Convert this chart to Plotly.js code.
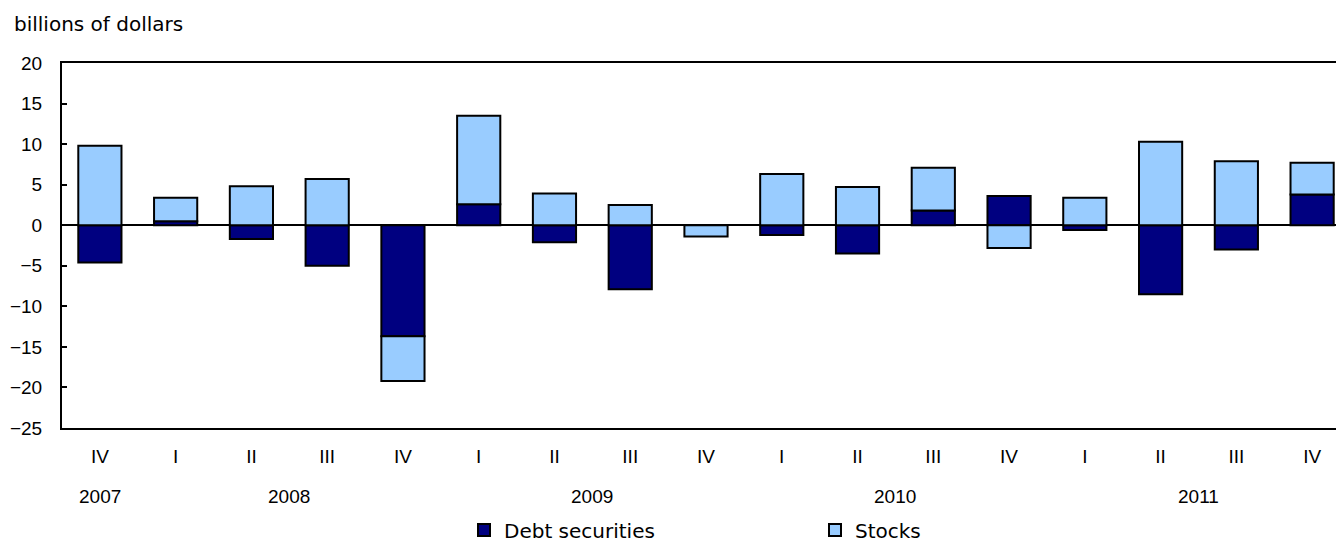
<!DOCTYPE html>
<html>
<head>
<meta charset="utf-8">
<script src="https://cdn.plot.ly/plotly-3.0.1.min.js"></script>
<style>
  html, body { margin: 0; padding: 0; overflow: hidden; background: #fff; }
  #chart { width: 1350px; height: 560px; }
</style>
</head>
<body>
<div id="chart"></div>
<script>
// Quarter tick labels
const quarters = ["IV","I","II","III","IV","I","II","III","IV","I","II","III","IV","I","II","III","IV"];
// Year labels and the index (centre) they sit under
const years = ["2007","2008","2009","2010","2011"];
const yearPos = [0, 2.5, 6.5, 10.5, 14.5];
// Series values (billions of dollars)
const debtSecurities = [-4.6, 0.5, -1.7, -5.0, -13.7, 2.6, -2.1, -7.9, 0.0, -1.2, -3.5, 1.8, 3.6, -0.6, -8.5, -3.0, 3.8];
const stocks = [9.8, 2.9, 4.8, 5.7, -5.5, 10.9, 3.9, 2.5, -1.4, 6.3, 4.7, 5.3, -2.8, 3.4, 10.3, 7.9, 3.9];

const idx = quarters.map((q, i) => i);

const tickFont = {family: "Liberation Sans, Arial, sans-serif", size: 19, color: "#000"};
const verdFont = {family: "DejaVu Sans, Verdana, sans-serif", size: 20, color: "#000"};

const traces = [
  {
    type: "bar", name: "Debt securities", x: idx, y: debtSecurities,
    marker: {color: "#000080", line: {color: "#000", width: 2}},
    hoverinfo: "skip"
  },
  {
    type: "bar", name: "Stocks", x: idx, y: stocks,
    marker: {color: "#99CCFF", line: {color: "#000", width: 2}},
    hoverinfo: "skip"
  }
];

const annotations = years.map((y, i) => ({
  text: y, x: yearPos[i], xref: "x", y: -0.189, yref: "paper",
  yanchor: "middle", xanchor: "center", showarrow: false, font: tickFont
}));
annotations.push({
  text: "billions of dollars", xref: "paper", yref: "paper",
  x: (12 - 62) / 1288, y: (428 - 24) / 365, xanchor: "left", yanchor: "middle",
  showarrow: false, font: verdFont
});

const H = 560;
const layout = {
  width: 1350, height: H,
  margin: {l: 62, r: 0, t: 63, b: H - 428, pad: 0},
  paper_bgcolor: "#fff", plot_bgcolor: "#fff",
  barmode: "relative", bargap: 0.43,
  showlegend: true,
  legend: {
    orientation: "h", xref: "container", yref: "container",
    x: 464 / 1350, y: 1 - 530 / H, xanchor: "left", yanchor: "middle",
    font: verdFont, entrywidth: 306, entrywidthmode: "pixels",
    bgcolor: "rgba(0,0,0,0)"
  },
  xaxis: {
    range: [-0.5, 16.5], tickvals: idx, ticktext: quarters,
    showgrid: false, zeroline: false,
    showline: true, linecolor: "#000", linewidth: 2, mirror: true,
    ticks: "outside", ticklen: 10, tickcolor: "rgba(0,0,0,0)",
    tickfont: tickFont, fixedrange: true
  },
  yaxis: {
    range: [-25, 20], dtick: 5, tick0: 0,
    showgrid: false, zeroline: true, zerolinecolor: "#000", zerolinewidth: 2,
    showline: true, linecolor: "#000", linewidth: 2, mirror: true,
    ticks: "inside", ticklen: 5, tickwidth: 2, tickcolor: "#000",
    ticklabelstandoff: 14,
    tickfont: tickFont, fixedrange: true
  },
  annotations: annotations
};

Plotly.newPlot("chart", traces, layout, {displayModeBar: false, staticPlot: true});
</script>
</body>
</html>
